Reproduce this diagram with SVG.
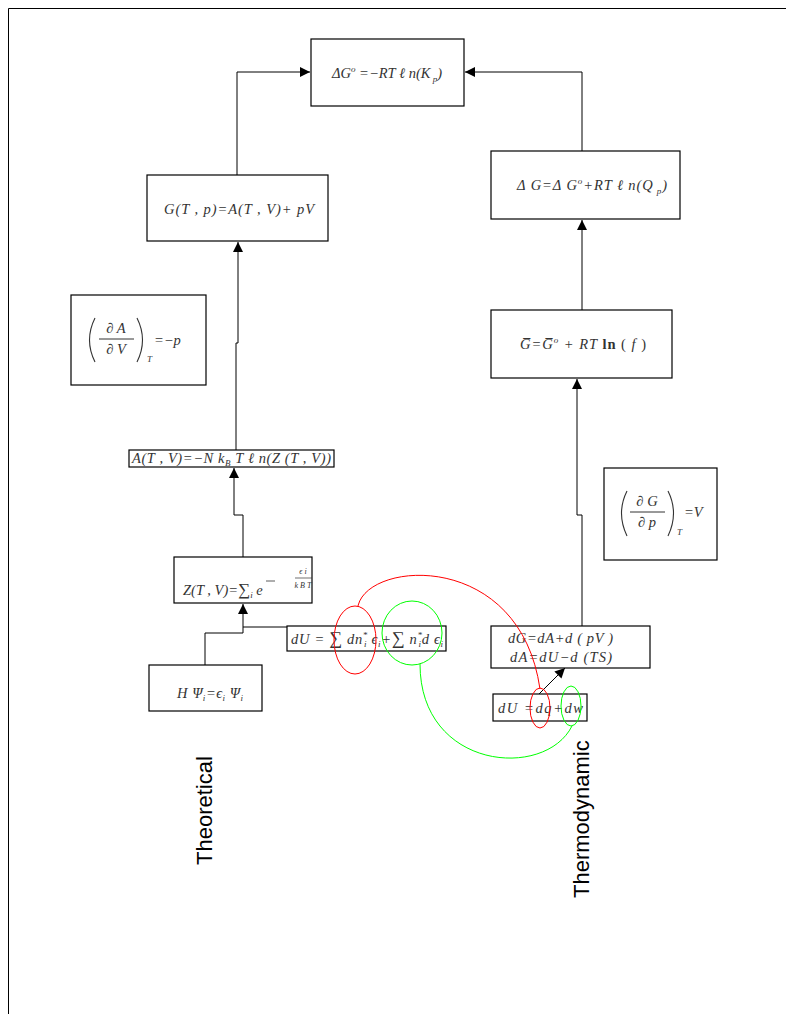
<svg xmlns="http://www.w3.org/2000/svg" width="786" height="1014" viewBox="0 0 786 1014">
<defs>
<marker id="ah" viewBox="0 0 10 10" refX="10" refY="5" markerWidth="10" markerHeight="10" markerUnits="userSpaceOnUse" orient="auto">
<path d="M0,0 L10,5 L0,10 z" fill="#000"/>
</marker>
<style>
.box{fill:#fff;stroke:#000;stroke-width:1.2}
.m{font-family:"Liberation Serif",serif;font-style:italic;font-size:14.5px;fill:#333}
.u{font-style:normal}
.s{font-size:9px}
.c{fill:none;stroke:#000;stroke-width:1}
.par{fill:none;stroke:#333;stroke-width:1.1}
.lbl{font-family:"Liberation Sans",sans-serif;font-size:22px;fill:#000}
</style>
</defs>
<rect width="786" height="1014" fill="#fff"/>
<path d="M8.5,1014 V8.5 H786" fill="none" stroke="#000" stroke-width="1"/>

<g id="connectors">
<path class="c" d="M237,175 V72 H310" marker-end="url(#ah)"/>
<path class="c" d="M582,151 V72 H465" marker-end="url(#ah)"/>
<path class="c" d="M236,450 V343 H238 V242" marker-end="url(#ah)"/>
<path class="c" d="M243,557 V515 H234 V468" marker-end="url(#ah)"/>
<path class="c" d="M205,665 V633 H243 V604" marker-end="url(#ah)"/>
<path class="c" d="M287,627 H243"/>
<path class="c" d="M582,626 V515 H577 V379" marker-end="url(#ah)"/>
<path class="c" d="M582,310 V220" marker-end="url(#ah)"/>
<path class="c" d="M538,695 L565,668" marker-end="url(#ah)"/>
</g>

<g id="n-dG0">
<rect class="box" x="311" y="39" width="153" height="67"/>
<text class="m" x="332" y="78">ΔG<tspan class="s" dy="-6">o</tspan><tspan dy="6"> =−RT ℓ n(K</tspan><tspan class="s" dy="4"> p</tspan><tspan dy="-4">)</tspan></text>
</g>

<g id="n-G">
<rect class="box" x="147" y="175" width="181" height="66"/>
<text class="m" x="164" y="214" textLength="150" lengthAdjust="spacing">G(T , p)=A(T , V)+ pV</text>
</g>

<g id="n-dG">
<rect class="box" x="491" y="151" width="189" height="68"/>
<text class="m" x="517" y="190" textLength="150" lengthAdjust="spacing">Δ G=Δ G<tspan class="s" dy="-6">o</tspan><tspan dy="6">+RT ℓ n(Q</tspan><tspan class="s" dy="4"> p</tspan><tspan dy="-4">)</tspan></text>
</g>

<g id="n-dAdV">
<rect class="box" x="71" y="295" width="135" height="90"/>
<path class="par" d="M95,318 Q84,340 95,362"/>
<text class="m" x="116" y="333" text-anchor="middle">∂ A</text>
<line x1="99" y1="339" x2="134" y2="339" stroke="#333" stroke-width="1"/>
<text class="m" x="116" y="354" text-anchor="middle">∂ V</text>
<path class="par" d="M137,318 Q148,340 137,362"/>
<text class="m s" x="147" y="362">T</text>
<text class="m" x="154" y="345">=−p</text>
</g>

<g id="n-Gbar">
<rect class="box" x="491" y="310" width="181" height="68"/>
<text class="m" x="520" y="349" textLength="126" lengthAdjust="spacing">G̅=G̅<tspan class="s" dy="-6">o</tspan><tspan dy="6"> + RT </tspan><tspan class="u" font-weight="bold">ln</tspan><tspan class="u"> ( </tspan>f<tspan class="u"> )</tspan></text>
</g>

<g id="n-A">
<rect class="box" x="129" y="450" width="205" height="17"/>
<text class="m" x="132" y="463" textLength="199" lengthAdjust="spacing">A(T , V)=−N k<tspan class="s" dy="3">B</tspan><tspan dy="-3"> T ℓ n(Z (T , V))</tspan></text>
</g>

<g id="n-Z">
<rect class="box" x="174" y="557" width="138" height="46"/>
<text class="m" x="183" y="595">Z(T , V)=<tspan class="u" style="font-size:17px">∑</tspan><tspan class="s" dy="3">i</tspan><tspan dy="-3"> e</tspan></text>
<line x1="266" y1="581" x2="275" y2="581" stroke="#333" stroke-width="0.8"/>
<text class="m" x="303" y="574" style="font-size:8px" text-anchor="middle">ϵ i</text>
<line x1="295" y1="578" x2="312" y2="578" stroke="#333" stroke-width="0.7"/>
<text class="m" x="303" y="588" style="font-size:8px" text-anchor="middle">k B T</text>
</g>

<g id="n-dU1">
<rect class="box" x="287" y="626" width="159" height="25"/>
<text class="m" x="291" y="644" textLength="152" lengthAdjust="spacing">dU = <tspan class="u" style="font-size:18px">∑</tspan> dn<tspan class="s" dy="-6">*</tspan><tspan class="s" dx="-4" dy="9">i</tspan><tspan dy="-3"> ϵ</tspan><tspan class="s" dy="3">i</tspan><tspan dy="-3">+</tspan><tspan class="u" style="font-size:18px">∑</tspan> n<tspan class="s" dy="-6">*</tspan><tspan class="s" dx="-4" dy="9">i</tspan><tspan dy="-3">d ϵ</tspan><tspan class="s" dy="3">i</tspan></text>
</g>

<g id="n-dGdA">
<rect class="box" x="491" y="626" width="159" height="42"/>
<text class="m" x="508" y="643" textLength="105" lengthAdjust="spacing">dG=dA+d ( pV )</text>
<text class="m" x="510" y="662" textLength="102" lengthAdjust="spacing">dA=dU−d (TS)</text>
</g>

<g id="n-dU2">
<rect class="box" x="493" y="694" width="94" height="27"/>
<text class="m" x="498" y="713" textLength="85" lengthAdjust="spacing">dU =dq+dw</text>
</g>

<g id="n-dGdp">
<rect class="box" x="604" y="468" width="113" height="92"/>
<path class="par" d="M627,491 Q616,513 627,536"/>
<text class="m" x="647" y="506" text-anchor="middle">∂ G</text>
<line x1="630" y1="512" x2="665" y2="512" stroke="#333" stroke-width="1"/>
<text class="m" x="647" y="527" text-anchor="middle">∂ p</text>
<path class="par" d="M668,491 Q679,513 668,536"/>
<text class="m s" x="677" y="535">T</text>
<text class="m" x="684" y="517">=V</text>
</g>

<g id="n-H">
<rect class="box" x="149" y="665" width="113" height="46"/>
<text class="m" x="177" y="698" textLength="66" lengthAdjust="spacing">H Ψ<tspan class="s" dy="3">i</tspan><tspan dy="-3">=ϵ</tspan><tspan class="s" dy="3">i</tspan><tspan dy="-3"> Ψ</tspan><tspan class="s" dy="3">i</tspan></text>
</g>

<g id="highlights" fill="none">
<ellipse cx="355" cy="640" rx="21" ry="34" stroke="#ff0000"/>
<path d="M358,606 C368,560 520,550 540,689" stroke="#ff0000"/>
<ellipse cx="540" cy="708" rx="10" ry="20" stroke="#ff0000"/>
<ellipse cx="412" cy="633" rx="30" ry="32" stroke="#00ff00"/>
<path d="M420,664 C420,770 545,780 572,726" stroke="#00ff00"/>
<ellipse cx="571" cy="706" rx="10" ry="20" stroke="#00ff00"/>
</g>

<text class="lbl" transform="translate(212,865) rotate(-90)">Theoretical</text>
<text class="lbl" transform="translate(589,898) rotate(-90)">Thermodynamic</text>
</svg>
